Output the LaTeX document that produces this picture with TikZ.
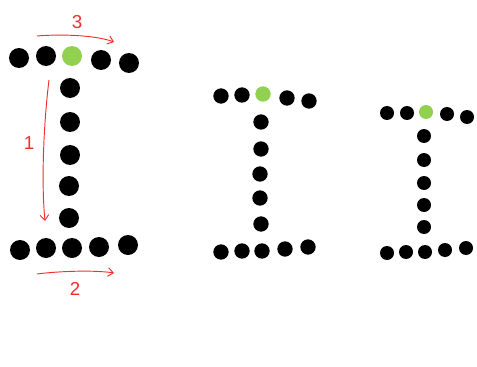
\documentclass[tikz,border=0pt]{standalone}
\usepackage{fontspec}
\setmainfont{Liberation Sans}
\usepackage{xcolor}
\usetikzlibrary{arrows.meta}
\definecolor{dotgreen}{HTML}{92D050}
\definecolor{penred}{HTML}{F22F2F}

\begin{document}
\begin{tikzpicture}[x=0.03cm,y=-0.03cm,
    bigdot/.style={circle,fill=black,inner sep=0pt,minimum size=6mm},
    middot/.style={circle,fill=black,inner sep=0pt,minimum size=4.6mm},
    smalldot/.style={circle,fill=black,inner sep=0pt,minimum size=4.2mm},
    start/.style={fill=dotgreen},
    pen/.style={penred,line width=0.8pt,-{Straight Barb[length=1.6mm,width=2.6mm]}},
    penlabel/.style={text=penred,font=\fontsize{16}{18}\selectfont}]
    \useasboundingbox (0,0) rectangle (477,367);

    % large I
    \foreach \n/\x/\y in {1/19/58,2/46/56,4/101/60,5/129/63}
        \node[bigdot] (Lt\n) at (\x,\y) {};
    \node[bigdot,start] (Lt3) at (72,56) {};
    \foreach \n/\x/\y in {1/70/88,2/70/122,3/70/155,4/69/186,5/69/218}
        \node[bigdot] (Lv\n) at (\x,\y) {};
    \foreach \n/\x/\y in {1/20/250,2/46/248,3/72/248,4/99/247,5/128/245}
        \node[bigdot] (Lb\n) at (\x,\y) {};

    % medium I
    \foreach \n/\x/\y in {1/221/96,2/242/95,4/287/98,5/309/101}
        \node[middot] (Mt\n) at (\x,\y) {};
    \node[middot,start] (Mt3) at (263,94) {};
    \foreach \n/\x/\y in {1/261/122,2/261/149,3/260/174,4/260/198,5/261/224}
        \node[middot] (Mv\n) at (\x,\y) {};
    \foreach \n/\x/\y in {1/221/252,2/242/251,3/262/251,4/285/249,5/308/247}
        \node[middot] (Mb\n) at (\x,\y) {};

    % small I
    \foreach \n/\x/\y in {1/387/113,2/407/113,4/447/114,5/467/117}
        \node[smalldot] (St\n) at (\x,\y) {};
    \node[smalldot,start] (St3) at (426,112) {};
    \foreach \n/\x/\y in {1/424/136,2/424/160,3/424/183,4/424/205,5/424/227}
        \node[smalldot] (Sv\n) at (\x,\y) {};
    \foreach \n/\x/\y in {1/387/253,2/406/252,3/425/252,4/445/250,5/466/248}
        \node[smalldot] (Sb\n) at (\x,\y) {};

    % stroke order
    \coordinate (oneA) at (49,80);
    \coordinate (oneB) at (45,221);
    \coordinate (twoA) at (37,274);
    \coordinate (twoB) at (114,273);
    \coordinate (threeA) at (37,36);
    \coordinate (threeB) at (114,42);
    \draw[pen] (oneA) .. controls (44,120) and (41,180) .. (oneB);
    \draw[pen] (twoA) .. controls (60,271) and (95,270) .. (twoB);
    \draw[pen] (threeA) .. controls (60,34) and (95,35) .. (threeB);
    \node[penlabel] (one) at (29,143) {1};
    \node[penlabel] (two) at (75,289) {2};
    \node[penlabel] (three) at (77,22) {3};
\end{tikzpicture}
\end{document}
